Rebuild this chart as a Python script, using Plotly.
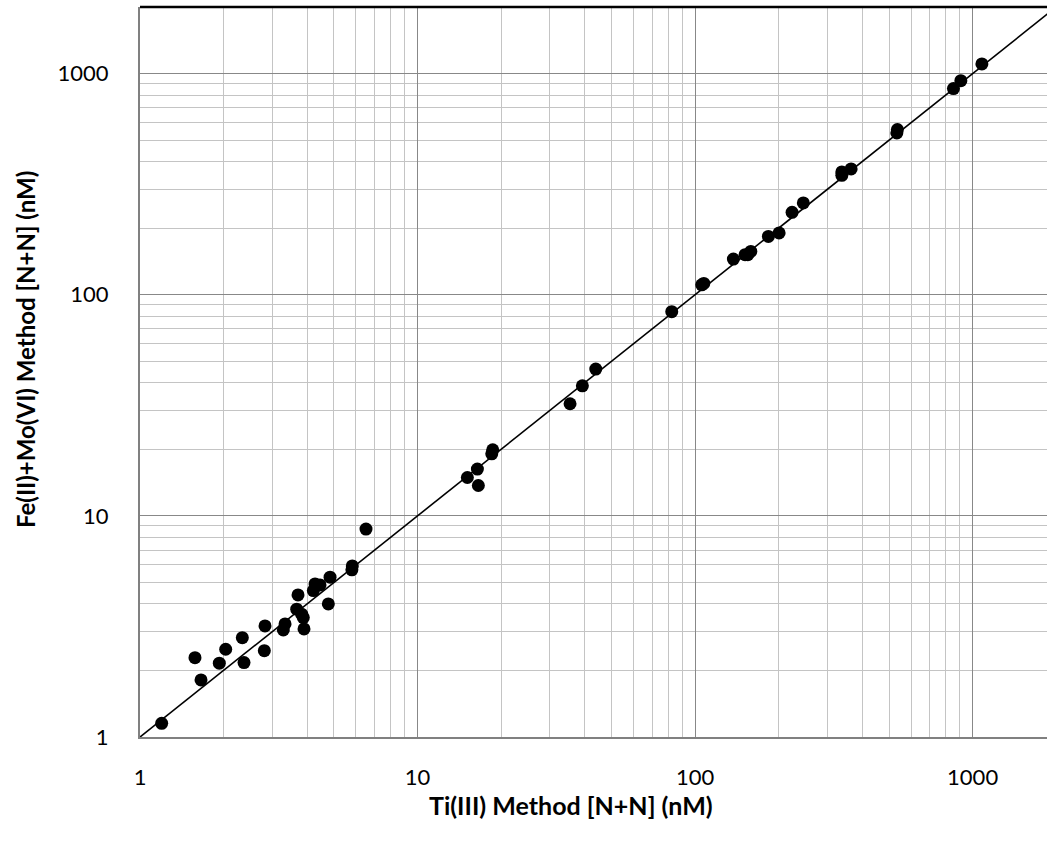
import math
import plotly.graph_objects as go

# Data
ti_method = [1.197, 1.578, 1.659, 1.931, 2.036, 2.337, 2.370, 2.821, 2.805, 3.284,
             3.331, 3.710, 3.670, 3.825, 3.876, 3.899, 4.273, 4.213, 4.453, 4.839,
             4.771, 5.82, 5.80, 6.52, 15.12, 16.43, 16.56, 18.51, 18.66, 35.44,
             39.26, 43.87, 82.4, 105.7, 107.5, 137.4, 151.4, 154.9, 158.8, 183.7,
             200.8, 223.6, 245.5, 337.9, 337.9, 364.9, 533.3, 535.8, 853, 907, 1080]
fe_method = [1.153, 2.285, 1.811, 2.156, 2.494, 2.814, 2.170, 3.179, 2.458, 3.049,
             3.245, 4.390, 3.783, 3.592, 3.467, 3.081, 4.924, 4.592, 4.873, 5.280,
             3.998, 5.94, 5.70, 8.71, 14.91, 16.27, 13.72, 19.08, 19.89, 32.13,
             38.74, 46.12, 83.8, 110.9, 112.5, 145.0, 151.7, 151.7, 157.0, 183.5,
             190.2, 235.7, 260.0, 346.7, 359.0, 370.6, 539, 558, 855, 929, 1106]
one_to_one = [1, 2000]
tick_vals = [1, 10, 100, 1000]
tick_text = ["1", "10", "100", "1000"]

FONT = "Lato, Carlito, Calibri, sans-serif"

fig = go.Figure()
fig.add_trace(go.Scatter(x=one_to_one, y=one_to_one, mode="lines",
                         line=dict(color="black", width=1.6), showlegend=False,
                         hoverinfo="skip"))
fig.add_trace(go.Scatter(x=ti_method, y=fe_method, mode="markers",
                         marker=dict(color="black", size=13, line=dict(width=0)),
                         showlegend=False))

axis_common = dict(
    type="log",
    tickvals=tick_vals, ticktext=tick_text,
    showgrid=True, gridcolor="#888888", gridwidth=1.4,
    minor=dict(dtick="D1", showgrid=True, gridcolor="#c4c4c4", gridwidth=1, ticks=""),
    showline=True, linecolor="#808080", linewidth=2,
    ticks="", tickfont=dict(family=FONT, size=22, color="black"),
    zeroline=False,
)

fig.update_layout(
    width=1047, height=846,
    margin=dict(l=140, r=0, t=7, b=109),
    plot_bgcolor="white", paper_bgcolor="white",
    xaxis=dict(range=[0, 3.268], ticklabelstandoff=20, **axis_common),
    yaxis=dict(range=[0, math.log10(2000)], ticklabelstandoff=25, **axis_common),
    shapes=[dict(type="line", xref="paper", yref="paper", x0=0, x1=1, y0=1, y1=1,
                 line=dict(color="black", width=2.5))],
    annotations=[
        dict(text="<b>Ti(III) Method [N+N] (nM)</b>", xref="paper", yref="paper",
             x=(571 - 140) / 907, y=-(805 - 737) / 730, showarrow=False,
             xanchor="center", yanchor="middle",
             font=dict(family=FONT, size=25, color="black")),
        dict(text="<b>Fe(II)+Mo(VI) Method [N+N] (nM)</b>", xref="paper", yref="paper",
             x=-(140 - 25) / 907, y=(737 - 350) / 730, showarrow=False, textangle=-90,
             xanchor="center", yanchor="middle",
             font=dict(family=FONT, size=24, color="black")),
    ],
)

fig.write_html("out.html", config={"displayModeBar": False},
               post_script="document.body.style.margin='0';document.body.style.overflow='hidden';")
